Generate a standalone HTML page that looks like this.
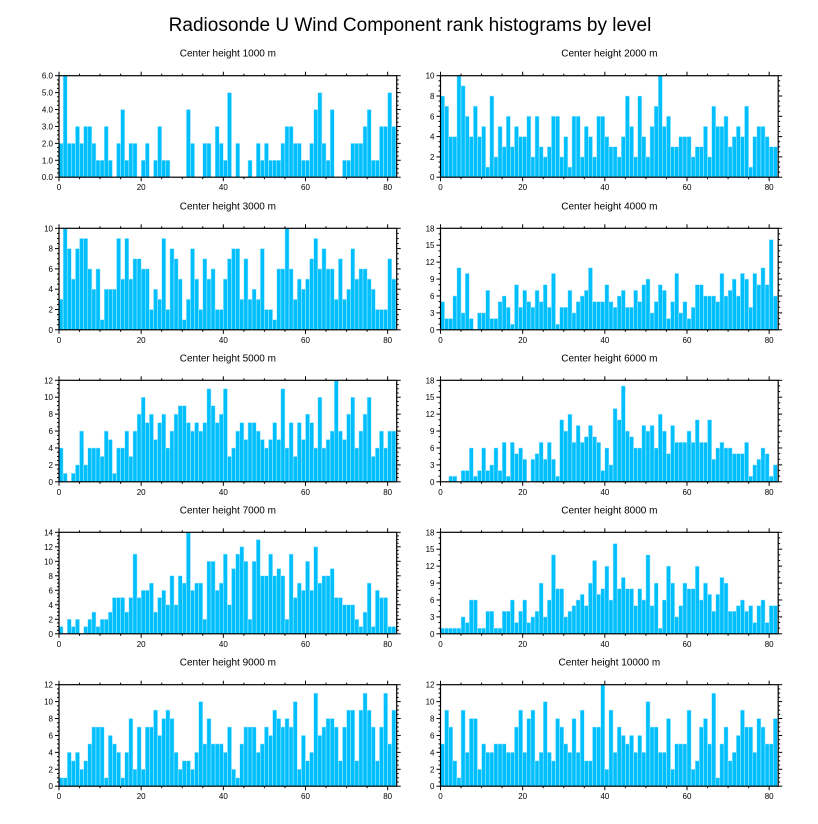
<!DOCTYPE html>
<html><head><meta charset="utf-8">
<style>
html,body{margin:0;padding:0;background:#fff;}
svg{display:block;font-family:"Liberation Sans",sans-serif;}
</style></head>
<body>
<svg id="chart" width="818" height="824" viewBox="0 0 818 824" xmlns="http://www.w3.org/2000/svg">
<text x="410" y="31" text-anchor="middle" font-size="19" fill="#000">Radiosonde U Wind Component rank histograms by level</text>
</svg>
<script>
const panelTitles = ["Center height 1000 m","Center height 2000 m","Center height 3000 m","Center height 4000 m","Center height 5000 m","Center height 6000 m","Center height 7000 m","Center height 8000 m","Center height 9000 m","Center height 10000 m"];
const yMaxes = [6,10,10,18,12,18,14,18,12,12];
const yStepsMajor = [1,2,2,3,2,3,2,3,2,2];
const xTicks = [0,20,40,60,80];
const counts1000 = [2,6,2,2,3,2,3,3,2,1,1,3,1,0,2,4,1,2,2,0,1,2,0,1,3,1,1,0,0,0,0,4,2,0,0,2,2,0,3,2,1,5,0,2,0,0,1,0,2,1,2,1,1,1,2,3,3,2,2,1,1,2,4,5,2,1,4,0,0,1,1,2,2,2,3,4,1,1,3,3,5,3];
const counts2000 = [8,7,4,4,10,9,6,4,7,4,5,1,8,2,5,3,6,3,5,4,4,6,2,6,3,2,3,6,6,2,4,1,6,6,2,5,4,2,6,6,4,3,3,2,4,8,5,2,8,4,2,5,7,10,5,6,3,3,4,4,4,2,3,3,5,2,7,5,5,6,3,4,5,4,7,1,4,5,5,4,3,3];
const counts3000 = [3,10,8,5,8,9,9,6,4,6,1,4,4,4,9,5,9,5,7,7,6,6,2,4,3,9,2,8,7,5,1,3,8,5,2,7,5,6,2,2,5,7,8,8,3,7,3,4,3,8,2,2,1,6,6,10,6,3,5,4,5,7,9,6,8,6,6,3,7,3,4,8,5,6,6,5,4,2,2,2,7,5];
const counts4000 = [5,2,2,6,11,3,10,2,0,3,3,7,2,2,5,6,4,1,8,4,7,5,4,7,5,8,4,10,1,4,4,7,3,5,6,7,11,5,5,5,8,5,4,6,7,4,4,7,5,8,9,3,5,8,7,2,5,10,3,5,2,4,8,8,6,6,6,5,10,6,7,9,6,10,9,4,10,8,11,8,16,6];
const counts5000 = [4,1,0,1,2,6,2,4,4,4,3,6,5,1,4,4,6,3,6,8,10,7,8,5,7,8,4,6,8,9,9,7,6,7,6,7,11,9,7,8,11,3,4,6,7,5,7,7,6,5,4,5,7,5,11,4,7,3,7,5,8,7,4,10,4,5,6,12,6,5,8,10,4,6,8,10,3,4,6,4,6,6];
const counts6000 = [0,0,1,1,0,2,2,6,1,2,6,2,3,6,2,7,1,7,5,6,4,0,4,5,7,4,7,4,1,11,9,12,7,10,7,8,10,8,7,2,6,3,13,11,17,9,8,6,6,10,9,10,6,12,9,5,10,7,7,7,9,7,11,7,7,11,4,6,7,6,6,5,5,5,7,1,3,4,6,5,1,3];
const counts7000 = [1,0,2,1,2,0,1,2,3,1,2,2,3,5,5,5,3,5,11,5,6,6,7,3,5,6,4,8,4,8,7,14,6,7,7,2,10,10,6,7,11,4,9,11,12,10,2,10,13,8,8,11,8,9,8,2,11,5,7,6,10,6,12,7,8,8,9,5,5,4,4,4,2,1,3,7,1,6,5,5,1,1];
const counts8000 = [1,1,1,1,1,3,2,6,6,1,1,4,4,1,1,4,4,6,2,4,6,2,3,4,9,3,6,14,8,8,3,4,5,6,7,5,9,13,7,8,12,6,16,8,10,8,8,5,8,6,14,5,9,1,6,12,9,3,5,9,8,8,12,6,9,7,4,7,10,9,4,4,5,6,4,5,2,5,6,2,5,5];
const counts9000 = [1,1,4,3,4,2,3,5,7,7,7,1,6,5,4,1,4,8,2,7,2,7,7,9,6,8,9,8,4,2,3,3,2,4,10,5,8,5,5,5,4,7,2,1,5,7,7,7,4,5,7,6,9,8,7,8,7,10,2,6,3,4,11,6,7,8,8,7,3,7,9,9,3,9,11,9,7,3,7,11,5,9];
const counts10000 = [5,9,7,3,1,9,4,8,8,2,5,4,4,5,5,5,4,4,7,9,4,8,9,3,4,10,4,3,8,7,5,4,8,4,9,3,3,7,7,12,2,9,4,7,6,5,6,4,6,4,10,7,7,4,4,8,2,5,5,5,9,2,3,7,8,5,11,1,5,7,3,4,6,9,7,7,4,8,7,5,5,8];
const allCounts = [counts1000,counts2000,counts3000,counts4000,counts5000,counts6000,counts7000,counts8000,counts9000,counts10000];

const NS = "http://www.w3.org/2000/svg";
const svg = document.getElementById("chart");
const colX = [59, 440.5];
const rowTop = [75.7, 228.3, 380.3, 532.3, 684.7];
const PW = 337.7, PH = 101.5, XMAX = 82.2;

function mk(tag, attrs, parent){const e=document.createElementNS(NS,tag);for(const k in attrs)e.setAttribute(k,attrs[k]);parent.appendChild(e);return e;}

allCounts.forEach((counts, p) => {
  const col = p % 2, row = Math.floor(p / 2);
  const x0 = colX[col], y0 = rowTop[row];
  const ymax = yMaxes[p], step = yStepsMajor[p];
  const sx = v => x0 + v / XMAX * PW;
  const sy = v => y0 + PH - v / ymax * PH;
  const g = mk("g", {}, svg);
  
  

  const t = mk("text", {x: x0 + PW/2, y: y0 - 19, "text-anchor":"middle", "font-size":"10", fill:"#000"}, g);
  t.textContent = panelTitles[p];
  
  

  counts.forEach((c, i) => {
    if (c <= 0) return;
    const r = mk("rect", {x: sx(i), y: sy(c), width: sx(i+1)-sx(i), height: sy(0)-sy(c), fill:"#00bfff", stroke:"#b8ecff", "stroke-width":"0.5"}, g);
    
    
  });

  const frame = mk("rect", {x:x0, y:y0, width:PW, height:PH, fill:"none", stroke:"#000", "stroke-width":"1.2"}, g);
  
  

  // x ticks
  for (let v = 0; v <= 80; v += 5) {
    const major = v % 20 === 0, L = major ? 4 : 2;
    mk("line", {x1:sx(v), x2:sx(v), y1:y0+PH, y2:y0+PH+L, stroke:"#000", "stroke-width":"1"}, g);
    mk("line", {x1:sx(v), x2:sx(v), y1:y0, y2:y0-L, stroke:"#000", "stroke-width":"1"}, g);
  }
  xTicks.forEach(v => {
    const tl = mk("text", {x:sx(v), y:y0+PH+13, "text-anchor":"middle", "font-size":"8", fill:"#000"}, g);
    tl.textContent = v;
    
    
  });
  // y ticks
  const minor = step / (step === 3 ? 3 : 4);
  for (let v = 0; v <= ymax + 1e-9; v += minor) {
    const major = Math.abs(v/step - Math.round(v/step)) < 1e-6, L = major ? 4 : 2;
    mk("line", {x1:x0, x2:x0-L, y1:sy(v), y2:sy(v), stroke:"#000", "stroke-width":"1"}, g);
    mk("line", {x1:x0+PW, x2:x0+PW+L, y1:sy(v), y2:sy(v), stroke:"#000", "stroke-width":"1"}, g);
  }
  for (let v = 0; v <= ymax; v += step) {
    const yl = mk("text", {x:x0-6, y:sy(v)+3, "text-anchor":"end", "font-size":"8", fill:"#000"}, g);
    yl.textContent = p === 0 ? v.toFixed(1) : v;
    
    
  }
});
</script>
</body></html>
